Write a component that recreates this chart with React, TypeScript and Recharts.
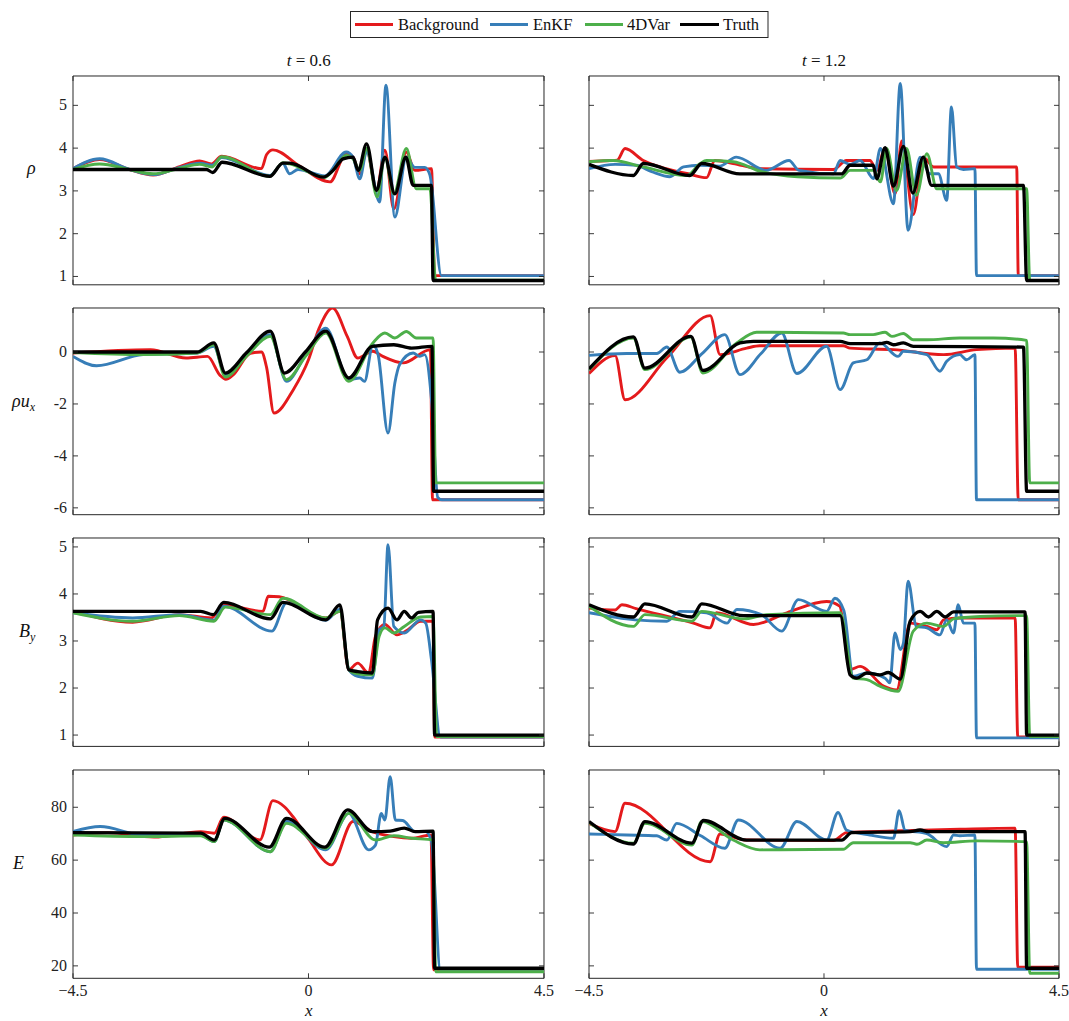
import React from 'react';
import { LineChart, Line, XAxis, YAxis, ReferenceArea } from 'recharts';

type Pt = [number, number];

// ---------- legend / series ----------
const SERIES_NAMES = ['Background', 'EnKF', '4DVar', 'Truth'];
const SERIES_COLORS = ['#E41A1C', '#377EB8', '#4DAF4A', '#000000'];
const SERIES_WIDTHS = [2.9, 2.9, 2.9, 3.3];

// ---------- axes ----------
const X_TICKS = [-4.5, 0, 4.5];
const X_TICK_LABELS = ['\u22124.5', '0', '4.5'];
const TIME_TITLES = ['0.6', '1.2'];
const ROW_DOMAINS: Pt[] = [[0.805, 5.686], [-6.263, 1.694], [0.759, 5.19], [15.3, 94.1]];
const ROW_TICKS = [[1, 2, 3, 4, 5], [-6, -4, -2, 0], [1, 2, 3, 4, 5], [20, 40, 60, 80]];

// ---------- rho, t = 0.6 ----------
const rho06Bg: Pt[] = [[-4.5,3.52],[-3.99,3.73],[-3.42,3.5],[-2.97,3.37],[-2.46,3.57],[-2.08,3.7],[-1.86,3.63],[-1.66,3.81],[-0.9,3.52],[-0.8,3.85],[-0.68,3.96],[-0.17,3.58],[0.41,3.21],[0.72,3.87],[0.85,3.79],[0.98,3.4],[1.11,3.95],[1.3,3.01],[1.46,3.95],[1.63,2.58],[1.87,3.91],[2.03,3.48],[2.35,3.52],[2.41,1.02],[4.5,1.02]];
const rho06Enkf: Pt[] = [[-4.5,3.52],[-3.99,3.75],[-3.42,3.5],[-2.97,3.38],[-2.46,3.55],[-2.08,3.65],[-1.84,3.6],[-1.66,3.78],[-0.74,3.36],[-0.49,3.64],[-0.36,3.4],[-0.2,3.5],[0.31,3.35],[0.72,3.91],[0.85,3.79],[0.98,3.28],[1.11,3.92],[1.36,2.74],[1.48,5.47],[1.65,2.39],[1.87,3.79],[2.03,3.55],[2.22,3.55],[2.32,3.37],[2.54,1.02],[4.5,1.02]];
const rho06Var: Pt[] = [[-4.5,3.5],[-3.99,3.63],[-3.42,3.5],[-2.97,3.4],[-2.46,3.53],[-2.08,3.62],[-1.84,3.56],[-1.66,3.8],[-0.74,3.34],[-0.49,3.66],[-0.36,3.63],[0.31,3.32],[0.47,3.48],[0.72,3.83],[0.85,3.75],[0.98,3.48],[1.11,4.0],[1.31,2.86],[1.46,3.79],[1.63,2.93],[1.87,3.99],[2.06,3.05],[2.32,3.05],[2.43,0.91],[4.5,0.91]];
const rho06Truth: Pt[] = [[-4.5,3.5],[-1.95,3.5],[-1.83,3.43],[-1.65,3.67],[-0.74,3.34],[-0.49,3.65],[-0.36,3.65],[0.28,3.32],[0.47,3.48],[0.66,3.75],[0.85,3.79],[0.95,3.48],[1.11,4.1],[1.3,3.01],[1.46,3.79],[1.65,2.93],[1.86,3.79],[2.0,3.13],[2.35,3.13],[2.38,0.906],[4.5,0.906]];

// ---------- rho, t = 1.2 ----------
const rho12Bg: Pt[] = [[-4.5,3.69],[-4.1,3.71],[-3.96,3.72],[-3.81,3.99],[-3.46,3.71],[-3.14,3.56],[-2.6,3.4],[-2.25,3.31],[-2.09,3.71],[-1.74,3.64],[-1.23,3.52],[0.18,3.5],[0.43,3.71],[0.88,3.71],[1.01,3.48],[1.17,4.0],[1.36,2.93],[1.49,4.17],[1.71,2.45],[1.9,3.79],[2.1,3.56],[3.69,3.56],[3.72,1.02],[4.5,1.02]];
const rho12Enkf: Pt[] = [[-4.5,3.52],[-4.0,3.62],[-3.6,3.6],[-3.3,3.45],[-2.95,3.33],[-2.69,3.56],[-2.37,3.6],[-2.0,3.58],[-1.68,3.79],[-1.11,3.48],[-0.67,3.71],[-0.48,3.48],[0.18,3.4],[0.31,3.71],[0.5,3.62],[0.69,3.71],[0.95,3.29],[1.08,3.99],[1.33,2.7],[1.46,5.51],[1.61,2.08],[1.84,3.79],[2.03,3.4],[2.19,3.4],[2.35,2.78],[2.44,4.96],[2.54,3.56],[2.67,3.5],[2.89,3.52],[2.92,1.02],[4.5,1.02]];
const rho12Var: Pt[] = [[-4.5,3.68],[-4.04,3.71],[-3.46,3.56],[-2.63,3.36],[-2.37,3.64],[-2.25,3.71],[-1.74,3.68],[-1.2,3.45],[-0.5,3.33],[0.31,3.3],[0.5,3.48],[0.95,3.48],[1.08,3.21],[1.2,3.99],[1.39,3.01],[1.58,3.99],[1.77,2.9],[1.97,3.87],[2.16,3.05],[3.88,3.05],[3.94,0.906],[4.5,0.906]];
const rho12Truth: Pt[] = [[-4.5,3.62],[-3.65,3.36],[-3.46,3.64],[-2.57,3.36],[-2.34,3.64],[-1.61,3.4],[0.34,3.4],[0.5,3.6],[0.94,3.6],[1.01,3.28],[1.17,4.01],[1.33,3.11],[1.52,4.04],[1.7,2.95],[1.9,3.79],[2.06,3.13],[3.82,3.13],[3.88,0.906],[4.5,0.906]];

// ---------- rho u_x, t = 0.6 ----------
const mom06Bg: Pt[] = [[-4.5,-0.04],[-3.02,0.09],[-2.34,-0.23],[-1.93,-0.17],[-1.69,-0.9],[-1.58,-1.05],[-1.45,-0.9],[-1.11,-0.05],[-0.9,0.0],[-0.8,-0.6],[-0.66,-2.35],[-0.29,-1.45],[0.0,-0.3],[0.2,0.9],[0.46,1.69],[0.74,0.6],[0.94,-0.23],[1.23,0.03],[1.42,-0.17],[1.81,-0.42],[2.33,0.09],[2.37,-5.69],[4.5,-5.69]];
const mom06Enkf: Pt[] = [[-4.5,-0.17],[-4.05,-0.53],[-3.16,-0.1],[-2.13,-0.04],[-1.81,0.22],[-1.59,-0.87],[-1.18,-0.1],[-0.73,0.67],[-0.42,-1.13],[-0.05,-0.1],[0.33,0.92],[0.77,-1.07],[0.98,-1.0],[1.07,-1.13],[1.23,0.28],[1.33,-0.1],[1.52,-3.12],[1.65,-1.19],[1.74,-0.49],[2.0,-0.04],[2.12,-0.17],[2.22,-0.1],[2.35,-1.83],[2.47,-5.6],[2.55,-5.69],[4.5,-5.69]];
const mom06Var: Pt[] = [[-4.5,-0.02],[-3.16,-0.1],[-2.13,-0.04],[-1.81,0.28],[-1.59,-0.96],[-1.18,-0.15],[-0.73,0.6],[-0.42,-1.07],[-0.05,-0.15],[0.33,0.73],[0.77,-1.13],[1.23,0.35],[1.46,0.73],[1.65,0.54],[1.87,0.79],[2.06,0.54],[2.38,0.54],[2.43,-5.04],[4.5,-5.04]];
const mom06Truth: Pt[] = [[-4.5,0],[-2.13,0],[-1.81,0.35],[-1.59,-0.81],[-1.18,-0.02],[-0.73,0.8],[-0.46,-0.81],[-0.06,0.0],[0.33,0.8],[0.77,-1.0],[1.22,0.22],[1.63,0.28],[1.97,0.15],[2.36,0.22],[2.39,-5.36],[4.5,-5.36]];

// ---------- rho u_x, t = 1.2 ----------
const mom12Bg: Pt[] = [[-4.5,-0.83],[-4.0,-0.14],[-3.81,-1.84],[-3.0,-0.2],[-2.18,1.4],[-1.99,-0.1],[-1.48,0.15],[-1.23,0.24],[0.37,0.24],[0.5,0.15],[1.33,0.09],[2.29,-0.1],[2.92,0.09],[3.66,0.15],[3.72,-5.69],[4.5,-5.69]];
const mom12Enkf: Pt[] = [[-4.5,-0.13],[-3.78,-0.06],[-3.2,-0.06],[-3.01,0.19],[-2.76,-0.78],[-2.33,-0.05],[-1.9,0.67],[-1.61,-0.87],[-1.21,-0.07],[-0.81,0.73],[-0.52,-0.83],[0.05,0.22],[0.31,-1.45],[0.56,-0.42],[0.82,-0.3],[1.07,0.35],[1.42,-0.17],[1.52,0.03],[1.97,-0.1],[2.22,-0.74],[2.35,-0.36],[2.6,-0.1],[2.73,-0.3],[2.89,-0.1],[2.92,-5.69],[4.5,-5.69]];
const mom12Var: Pt[] = [[-4.5,-0.68],[-3.65,0.54],[-3.43,-0.68],[-2.55,0.58],[-2.32,-0.81],[-1.67,0.35],[-1.29,0.76],[0.37,0.73],[0.5,0.67],[0.94,0.67],[1.17,0.76],[1.3,0.6],[1.52,0.71],[1.71,0.47],[1.97,0.47],[2.6,0.54],[3.24,0.54],[3.88,0.45],[3.94,-5.04],[4.5,-5.04]];
const mom12Truth: Pt[] = [[-4.5,-0.65],[-3.65,0.58],[-3.43,-0.62],[-2.55,0.6],[-2.32,-0.71],[-1.61,0.35],[-1.35,0.41],[0.31,0.41],[0.5,0.32],[1.07,0.32],[1.2,0.37],[1.33,0.28],[1.52,0.35],[1.71,0.22],[3.82,0.19],[3.88,-5.36],[4.5,-5.36]];

// ---------- B_y, t = 0.6 ----------
const by06Bg: Pt[] = [[-4.5,3.63],[-3.36,3.4],[-2.47,3.56],[-1.86,3.49],[-1.62,3.77],[-0.87,3.63],[-0.77,3.95],[-0.56,3.94],[0.33,3.49],[0.6,3.63],[0.77,2.39],[0.94,2.53],[1.15,2.32],[1.28,3.1],[1.46,3.35],[1.69,3.13],[1.9,3.24],[2.14,3.42],[2.38,3.42],[2.41,0.96],[4.5,0.96]];
const by06Enkf: Pt[] = [[-4.5,3.6],[-3.36,3.49],[-2.47,3.56],[-1.81,3.44],[-1.62,3.74],[-0.7,3.21],[-0.42,3.81],[0.33,3.44],[0.6,3.67],[0.77,2.39],[0.94,2.25],[1.22,2.21],[1.35,3.24],[1.44,3.31],[1.52,5.05],[1.63,3.31],[1.83,3.17],[2.14,3.45],[2.24,3.38],[2.35,2.6],[2.52,0.96],[4.5,0.96]];
const by06Var: Pt[] = [[-4.5,3.6],[-3.36,3.42],[-2.47,3.54],[-1.81,3.42],[-1.59,3.72],[-0.73,3.56],[-0.49,3.91],[0.33,3.49],[0.6,3.63],[0.77,2.39],[0.87,2.32],[1.22,2.28],[1.35,3.1],[1.46,3.28],[1.63,3.17],[1.83,3.31],[2.14,3.51],[2.38,3.52],[2.45,0.97],[4.5,0.97]];
const by06Truth: Pt[] = [[-4.5,3.63],[-2.06,3.63],[-1.82,3.56],[-1.62,3.82],[-0.73,3.47],[-0.49,3.82],[0.33,3.45],[0.6,3.77],[0.77,2.39],[0.94,2.35],[1.22,2.32],[1.32,3.45],[1.52,3.7],[1.69,3.45],[1.83,3.63],[1.97,3.49],[2.1,3.61],[2.38,3.63],[2.41,1.0],[4.5,1.0]];

// ---------- B_y, t = 1.2 ----------
const by12Bg: Pt[] = [[-4.5,3.7],[-4.0,3.66],[-3.87,3.77],[-3.6,3.69],[-2.5,3.38],[-2.18,3.28],[-2.06,3.6],[-1.35,3.35],[-0.71,3.6],[0.05,3.84],[0.3,3.74],[0.5,2.39],[0.69,2.46],[1.14,2.04],[1.39,1.96],[1.65,3.38],[1.97,3.31],[2.16,3.24],[2.29,3.45],[2.6,3.49],[3.66,3.49],[3.71,0.96],[4.5,0.96]];
const by12Enkf: Pt[] = [[-4.5,3.6],[-3.62,3.45],[-3.01,3.42],[-2.76,3.63],[-2.25,3.6],[-1.86,3.38],[-1.67,3.67],[-1.2,3.56],[-0.81,3.21],[-0.49,3.88],[0.05,3.63],[0.21,3.91],[0.38,3.65],[0.56,2.25],[0.82,2.32],[1.17,2.21],[1.26,2.11],[1.36,3.17],[1.46,2.82],[1.52,2.95],[1.61,4.27],[1.77,3.31],[1.97,3.28],[2.22,3.13],[2.35,3.45],[2.48,3.17],[2.57,3.77],[2.67,3.38],[2.89,3.38],[2.92,0.94],[4.5,0.94]];
const by12Var: Pt[] = [[-4.5,3.74],[-3.65,3.31],[-3.43,3.56],[-2.53,3.42],[-2.34,3.63],[-1.54,3.47],[-1.1,3.56],[0.31,3.6],[0.56,2.21],[0.82,2.18],[1.07,2.04],[1.42,1.93],[1.71,3.21],[1.97,3.38],[2.29,3.31],[2.48,3.47],[2.99,3.52],[3.88,3.54],[3.94,0.97],[4.5,0.97]];
const by12Truth: Pt[] = [[-4.5,3.77],[-3.65,3.51],[-3.43,3.79],[-2.53,3.51],[-2.34,3.79],[-1.54,3.54],[0.31,3.54],[0.5,2.28],[0.63,2.21],[0.82,2.32],[1.07,2.28],[1.23,2.33],[1.46,2.19],[1.65,3.42],[1.84,3.63],[2.0,3.51],[2.16,3.63],[2.32,3.51],[2.48,3.62],[3.85,3.62],[3.88,1.0],[4.5,1.0]];

// ---------- E, t = 0.6 ----------
const en06Bg: Pt[] = [[-4.5,69.5],[-3.84,70.4],[-2.95,68.7],[-2.06,70.8],[-1.8,70.2],[-1.62,76.2],[-0.93,67.6],[-0.68,82.5],[-0.45,80.0],[-0.3,76.5],[0.0,68.0],[0.44,58.2],[0.85,74.6],[1.22,70.8],[1.63,68.9],[1.97,68.3],[2.34,69.5],[2.39,18.5],[4.5,18.5]];
const en06Enkf: Pt[] = [[-4.5,70.8],[-3.98,72.7],[-3.16,69.5],[-2.06,69.5],[-1.8,67.0],[-1.62,75.2],[-0.73,63.2],[-0.42,74.6],[0.33,63.9],[0.77,77.7],[1.15,63.9],[1.28,65.7],[1.39,77.7],[1.46,75.2],[1.56,91.6],[1.66,75.2],[1.8,75.0],[2.04,70.8],[2.24,70.8],[2.35,67.0],[2.52,18.7],[4.5,18.7]];
const en06Var: Pt[] = [[-4.5,69.5],[-3.16,68.9],[-2.06,69.2],[-1.8,67.0],[-1.62,75.2],[-0.73,63.2],[-0.42,73.9],[0.33,64.5],[0.77,77.7],[1.28,67.6],[1.63,69.2],[1.97,68.3],[2.38,67.6],[2.43,17.8],[4.5,17.8]];
const en06Truth: Pt[] = [[-4.5,70.4],[-2.06,70.2],[-1.8,67.6],[-1.6,75.8],[-0.75,64.9],[-0.42,75.8],[0.31,64.9],[0.75,79.0],[1.22,70.8],[1.56,71.0],[1.83,72.1],[2.04,70.8],[2.38,71.0],[2.41,19.1],[4.5,19.1]];

// ---------- E, t = 1.2 ----------
const en12Bg: Pt[] = [[-4.5,73.9],[-4.0,70.8],[-3.81,81.5],[-2.18,59.4],[-1.99,69.9],[-1.48,67.6],[0.18,67.4],[0.43,70.4],[1.33,71.0],[2.6,71.7],[3.66,72.1],[3.71,19.5],[4.5,19.5]];
const en12Enkf: Pt[] = [[-4.5,69.9],[-3.78,69.5],[-3.2,69.2],[-3.01,67.6],[-2.82,73.9],[-2.36,69.2],[-1.9,64.5],[-1.64,75.2],[-0.84,64.5],[-0.52,74.6],[0.05,67.6],[0.27,78.0],[0.43,71.4],[0.88,69.5],[1.33,68.3],[1.44,78.7],[1.55,71.4],[1.97,70.0],[2.35,65.1],[2.48,69.5],[2.6,69.2],[2.89,69.5],[2.92,18.7],[4.5,18.7]];
const en12Var: Pt[] = [[-4.5,74.2],[-3.65,66.4],[-3.43,73.9],[-2.53,65.7],[-2.34,74.6],[-1.74,67.6],[-1.23,63.9],[0.37,64.1],[0.56,66.6],[1.65,66.6],[1.78,66.0],[1.97,67.6],[2.29,66.6],[2.92,67.3],[3.88,67.0],[3.94,17.2],[4.5,17.2]];
const en12Truth: Pt[] = [[-4.5,74.6],[-3.65,66.1],[-3.43,74.6],[-2.53,66.4],[-2.31,75.0],[-1.48,67.6],[0.34,67.6],[0.53,70.4],[1.65,70.8],[1.84,71.4],[2.0,70.8],[3.85,70.8],[3.88,19.1],[4.5,19.1]];

// panels: [row][col] -> [bg, enkf, 4dvar, truth]
const PANELS: Pt[][][][] = [
  [[rho06Bg, rho06Enkf, rho06Var, rho06Truth], [rho12Bg, rho12Enkf, rho12Var, rho12Truth]],
  [[mom06Bg, mom06Enkf, mom06Var, mom06Truth], [mom12Bg, mom12Enkf, mom12Var, mom12Truth]],
  [[by06Bg, by06Enkf, by06Var, by06Truth], [by12Bg, by12Enkf, by12Var, by12Truth]],
  [[en06Bg, en06Enkf, en06Var, en06Truth], [en12Bg, en12Enkf, en12Var, en12Truth]],
];

// ---------- layout (pixels) ----------
const COL_X: Pt[] = [[73.3, 544.3], [589, 1059]];
const ROW_Y: Pt[] = [[75.5, 284.3], [308.3, 515], [538.3, 746.7], [770, 978.3]];
const FONT = "'Liberation Serif', 'DejaVu Serif', serif";
const AX = '#262626';
const ML = 72, MR = 12, MT = 8, MB = 34;
const AXW = 20; // width/height reserved by the recharts axes (inside the margins)

function Panel({ row, col }: { row: number; col: number }) {
  const [x0, x1] = COL_X[col];
  const [y0, y1] = ROW_Y[row];
  const w = x1 - x0, h = y1 - y0;
  const L = ML, R = ML + w, T = MT, B = MT + h;
  const dom = ROW_DOMAINS[row];
  const showY = col === 0;
  const showX = row === 3;

  const YTick = (p: any) => {
    const y = Number(p.y);
    return (
      <g>
        <line x1={L} x2={L + 5} y1={y} y2={y} stroke={AX} strokeWidth={0.9} />
        <line x1={R - 5} x2={R} y1={y} y2={y} stroke={AX} strokeWidth={0.9} />
        {showY && (
          <text x={L - 6} y={y + 5} textAnchor="end" fontFamily={FONT} fontSize={16} fill="#222">
            {String(p.payload.value)}
          </text>
        )}
      </g>
    );
  };
  const XTick = (p: any) => {
    const x = Number(p.x);
    const i = X_TICKS.indexOf(p.payload.value);
    return (
      <g>
        <line x1={x} x2={x} y1={B} y2={B - 5} stroke={AX} strokeWidth={0.9} />
        <line x1={x} x2={x} y1={T} y2={T + 5} stroke={AX} strokeWidth={0.9} />
        {showX && (
          <text x={x} y={B + 18} textAnchor="middle" fontFamily={FONT} fontSize={16} fill="#222">
            {X_TICK_LABELS[i]}
          </text>
        )}
      </g>
    );
  };

  return (
    <div style={{ position: 'absolute', left: x0 - ML, top: y0 - MT }}>
      <LineChart width={w + ML + MR} height={h + MT + MB}
        margin={{ left: ML - AXW, right: MR, top: MT, bottom: MB - AXW }}>
        <XAxis type="number" dataKey="x" domain={[-4.5, 4.5]} ticks={X_TICKS} interval={0} height={AXW}
          tickLine={false} axisLine={false} tick={<XTick />} allowDataOverflow />
        <YAxis type="number" domain={dom} ticks={ROW_TICKS[row]} interval={0} width={AXW}
          tickLine={false} axisLine={false} tick={<YTick />} allowDataOverflow />
        <ReferenceArea x1={-4.5} x2={4.5} y1={dom[0]} y2={dom[1]} fill="none" fillOpacity={0}
          stroke={AX} strokeWidth={1} ifOverflow="visible" />
        {PANELS[row][col].map((arr, si) => (
          <Line key={si} data={arr.map(([x, y]) => ({ x, y }))} dataKey="y" type="monotone"
            stroke={SERIES_COLORS[si]} strokeWidth={SERIES_WIDTHS[si]} dot={false} activeDot={false}
            isAnimationActive={false} name={SERIES_NAMES[si]} />
        ))}
      </LineChart>
    </div>
  );
}

const LEGEND_LINES: Pt[] = [[355, 393], [490, 528], [585, 623], [680, 719]];
const LEGEND_TEXT_X = [398, 533, 627, 723];

function Overlay() {
  return (
    <svg width={1069} height={1021} style={{ position: 'absolute', left: 0, top: 0, pointerEvents: 'none' }}>
      {/* legend */}
      <rect x={350.5} y={11.5} width={417.5} height={26} fill="#fff" stroke={AX} strokeWidth={1} />
      {SERIES_NAMES.map((n, i) => (
        <g key={n}>
          <line x1={LEGEND_LINES[i][0]} x2={LEGEND_LINES[i][1]} y1={24.5} y2={24.5}
            stroke={SERIES_COLORS[i]} strokeWidth={2.8} />
          <text x={LEGEND_TEXT_X[i]} y={30} fontFamily={FONT} fontSize={16.5} fill="#111">{n}</text>
        </g>
      ))}
      {/* titles */}
      {TIME_TITLES.map((t, i) => (
        <text key={t} x={(COL_X[i][0] + COL_X[i][1]) / 2} y={66} textAnchor="middle" fontFamily={FONT} fontSize={17} fill="#111">
          <tspan fontStyle="italic">t</tspan>
          <tspan> = {t}</tspan>
        </text>
      ))}
      {/* y labels */}
      <text x={27} y={174} fontFamily={FONT} fontSize={18} fontStyle="italic" fill="#111">ρ</text>
      <text x={12} y={407} fontFamily={FONT} fontSize={18} fontStyle="italic" fill="#111">
        ρu<tspan fontSize={12} dy={4}>x</tspan>
      </text>
      <text x={19} y={637} fontFamily={FONT} fontSize={18} fontStyle="italic" fill="#111">
        B<tspan fontSize={12} dy={4}>y</tspan>
      </text>
      <text x={13} y={869} fontFamily={FONT} fontSize={18} fontStyle="italic" fill="#111">E</text>
      {/* x labels */}
      {COL_X.map((c, i) => (
        <text key={i} x={(c[0] + c[1]) / 2} y={1016} textAnchor="middle" fontFamily={FONT}
          fontSize={17} fontStyle="italic" fill="#111">x</text>
      ))}
    </svg>
  );
}

export default function App() {
  const cells: { r: number; c: number }[] = [];
  for (let r = 0; r < 4; r++) for (let c = 0; c < 2; c++) cells.push({ r, c });
  return (
    <div style={{ position: 'absolute', left: 0, top: 0, width: 1069, height: 1021, background: '#fff' }}>
      {cells.map(({ r, c }) => (
        <Panel key={`${r}-${c}`} row={r} col={c} />
      ))}
      <Overlay />
    </div>
  );
}
